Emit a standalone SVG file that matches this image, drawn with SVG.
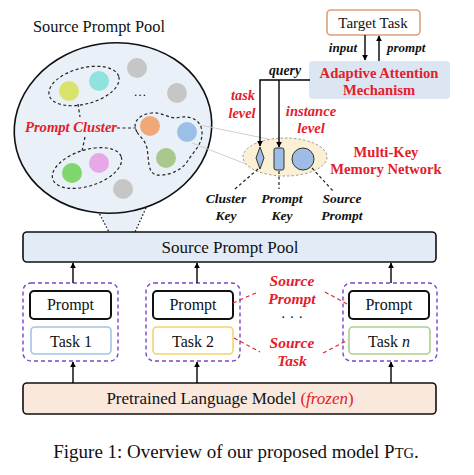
<svg xmlns="http://www.w3.org/2000/svg" width="474" height="475" viewBox="0 0 474 475">
<defs>
<marker id="ah" viewBox="0 0 10 10" refX="9" refY="5" markerWidth="6" markerHeight="6" orient="auto-start-reverse" markerUnits="userSpaceOnUse">
<path d="M0,0 L10,5 L0,10 z" fill="#000"/>
</marker>
<style>
text{font-family:"Liberation Serif","Times New Roman",serif;}
.red{fill:#e3202a;font-weight:bold;font-style:italic;}
.redb{fill:#e3202a;font-weight:bold;}
.bi{fill:#111;font-weight:bold;font-style:italic;}
.box{stroke:#111;stroke-width:1.6;}
.grp{fill:none;stroke:#7a45c8;stroke-width:1.4;stroke-dasharray:4 3;}
.dash{fill:none;stroke:#222;stroke-width:1.2;stroke-dasharray:3 2.5;}
.rdash{fill:none;stroke:#e3202a;stroke-width:1.1;stroke-dasharray:4 3;}
.arr{stroke:#000;stroke-width:1.4;fill:none;marker-end:url(#ah);}
</style>
</defs>
<rect width="474" height="475" fill="#fff"/>

<!-- Title -->
<text x="33" y="32" font-size="16.4" fill="#111">Source Prompt Pool</text>

<!-- Cone to pool -->
<g id="cone">
<polygon points="98,211 109,232 135,232 146,208" fill="#e9f0f8"/>
<line x1="98" y1="211" x2="109" y2="232" stroke="#111" stroke-width="1.2" stroke-dasharray="1.5 2"/>
<line x1="146" y1="208" x2="135" y2="232" stroke="#111" stroke-width="1.2" stroke-dasharray="1.5 2"/>
</g>

<!-- Big pool ellipse -->
<g id="pool-zoom">
<ellipse cx="113" cy="128" rx="99" ry="85" transform="rotate(-8 113 128)" fill="#e9f0f8" stroke="#111" stroke-width="1.6"/>
<ellipse cx="84" cy="86" rx="36" ry="18" transform="rotate(-15 84 86)" class="dash"/>
<ellipse cx="87" cy="168" rx="36" ry="18" transform="rotate(-18 87 168)" class="dash"/>
<path d="M137,132 C131,122 140,114 152,113 C162,112 168,118 176,118 C188,115 201,118 202,132 C203,144 193,152 187,162 C180,172 166,176 156,175 C147,172 149,158 147,148 C145,140 140,137 137,132 Z" class="dash"/>
<circle cx="69" cy="91" r="10" fill="#d8e36c"/>
<circle cx="99" cy="81" r="10" fill="#8fe3dc"/>
<circle cx="137" cy="68" r="10" fill="#c6c6c6"/>
<circle cx="177" cy="93" r="10" fill="#c6c6c6"/>
<text x="140" y="96" font-size="13" text-anchor="middle" fill="#111">…</text>
<circle cx="150" cy="126" r="10" fill="#f0a878"/>
<circle cx="187" cy="132" r="10" fill="#9cbfe6"/>
<circle cx="166" cy="158" r="10" fill="#a9c88e"/>
<circle cx="72" cy="173" r="10" fill="#7ed66c"/>
<circle cx="99" cy="163" r="10" fill="#e8a8e8"/>
<circle cx="123" cy="189" r="10" fill="#c6c6c6"/>
<text x="25" y="132" font-size="14.6" class="red">Prompt Cluster</text>
<line x1="117" y1="128" x2="136" y2="128" class="dash"/>
<line x1="78" y1="104" x2="80" y2="117" class="dash"/>
<line x1="85" y1="137" x2="82" y2="151" class="dash"/>
</g>

<!-- gray magnifier lines -->
<g id="magnify" stroke="#c8c8c8" stroke-width="0.9">
<line x1="200" y1="125" x2="268" y2="139"/>
<line x1="192" y1="143" x2="246" y2="164"/>
</g>

<!-- Target task -->
<g id="target-task">
<rect x="327" y="10" width="93" height="25" rx="4" fill="#fff" stroke="#dba07a" stroke-width="1.6"/>
<text x="373" y="28" font-size="15" text-anchor="middle" fill="#111">Target Task</text>
</g>

<!-- Adaptive attention -->
<g id="adaptive-attention">
<rect x="309" y="61" width="141" height="38" rx="4" fill="#dbe6f2"/>
<text x="379" y="78" font-size="14.6" text-anchor="middle" class="redb">Adaptive Attention</text>
<text x="379" y="95" font-size="14.6" text-anchor="middle" class="redb">Mechanism</text>
</g>

<!-- Multi-key memory network -->
<g id="multi-key">
<ellipse cx="285" cy="157" rx="42" ry="19" fill="#fbf0d4" stroke="#999" stroke-width="1" stroke-dasharray="2.5 2"/>
<path d="M260,147 L264,158 L260,169 L256,158 Z" fill="#9dbde6" stroke="#333" stroke-width="1"/>
<rect x="274" y="148" width="10" height="22" rx="2" fill="#9dbde6" stroke="#333" stroke-width="1"/>
<circle cx="303" cy="159" r="11" fill="#9dbde6" stroke="#333" stroke-width="1"/>
<text x="386" y="157" font-size="14.6" text-anchor="middle" class="redb">Multi-Key</text>
<text x="386" y="174" font-size="14.6" text-anchor="middle" class="redb">Memory Network</text>
</g>

<g id="key-labels">
<text x="226" y="203" font-size="13.5" text-anchor="middle" class="bi">Cluster</text>
<text x="226" y="220" font-size="13.5" text-anchor="middle" class="bi">Key</text>
<text x="282" y="203" font-size="13.5" text-anchor="middle" class="bi">Prompt</text>
<text x="282" y="220" font-size="13.5" text-anchor="middle" class="bi">Key</text>
<text x="342" y="203" font-size="13.5" text-anchor="middle" class="bi">Source</text>
<text x="342" y="220" font-size="13.5" text-anchor="middle" class="bi">Prompt</text>
</g>

<g id="level-labels">
<text x="243" y="100" font-size="14.3" text-anchor="middle" class="red">task</text>
<text x="242" y="118" font-size="14.3" text-anchor="middle" class="red">level</text>
<text x="311" y="116" font-size="14.6" text-anchor="middle" class="red">instance</text>
<text x="311" y="133" font-size="14.6" text-anchor="middle" class="red">level</text>
<text x="285" y="75" font-size="13.8" text-anchor="middle" class="bi">query</text>
<text x="357" y="52" font-size="13" text-anchor="end" class="bi">input</text>
<text x="387" y="52" font-size="13" class="bi">prompt</text>
</g>

<!-- Source prompt pool box -->
<g id="source-prompt-pool">
<rect x="23" y="232" width="413" height="30" rx="4" fill="#e3ecf6" class="box"/>
<text x="230" y="253" font-size="17" text-anchor="middle" fill="#111">Source Prompt Pool</text>
</g>

<!-- Task groups -->
<g id="group-1">
<rect x="23" y="283" width="95" height="78" rx="8" class="grp"/>
<rect x="30" y="291" width="81" height="28" rx="4" fill="#fff" stroke="#111" stroke-width="2"/>
<text x="70.5" y="310" font-size="16" text-anchor="middle" fill="#111">Prompt</text>
<rect x="31" y="327" width="80" height="27" rx="4" fill="#fff" stroke="#a4c2e4" stroke-width="1.6"/>
<text x="71" y="347" font-size="16" text-anchor="middle" fill="#111">Task 1</text>
</g>
<g id="group-2">
<rect x="146" y="283" width="94" height="78" rx="8" class="grp"/>
<rect x="153" y="291" width="80" height="28" rx="4" fill="#fff" stroke="#111" stroke-width="2"/>
<text x="193" y="310" font-size="16" text-anchor="middle" fill="#111">Prompt</text>
<rect x="153" y="327" width="80" height="27" rx="4" fill="#fff" stroke="#f3d36e" stroke-width="1.6"/>
<text x="193" y="347" font-size="16" text-anchor="middle" fill="#111">Task 2</text>
</g>
<g id="group-n">
<rect x="343" y="283" width="94" height="78" rx="8" class="grp"/>
<rect x="349" y="291" width="80" height="28" rx="4" fill="#fff" stroke="#111" stroke-width="2"/>
<text x="389" y="310" font-size="16" text-anchor="middle" fill="#111">Prompt</text>
<rect x="349" y="327" width="81" height="27" rx="4" fill="#fff" stroke="#a9d08e" stroke-width="1.6"/>
<text x="389" y="347" font-size="16" text-anchor="middle" fill="#111">Task <tspan font-style="italic">n</tspan></text>
</g>

<g id="source-labels">
<text x="292" y="286" font-size="15.5" text-anchor="middle" class="red">Source</text>
<text x="292" y="304" font-size="15.5" text-anchor="middle" class="red">Prompt</text>
<text x="292" y="322" font-size="15" text-anchor="middle" fill="#111">· · ·</text>
<text x="292" y="348" font-size="15.5" text-anchor="middle" class="red">Source</text>
<text x="292" y="366" font-size="15.5" text-anchor="middle" class="red">Task</text>
</g>

<!-- PLM -->
<g id="plm">
<rect x="23" y="383" width="413" height="31" rx="4" fill="#fbe8dd" class="box"/>
<text x="230" y="404" font-size="17" text-anchor="middle" fill="#111">Pretrained Language Model <tspan fill="#e3202a">(<tspan font-style="italic">frozen</tspan>)</tspan></text>
</g>

<!-- Connectors -->
<g id="connectors">
<line x1="365" y1="35" x2="365" y2="60" class="arr"/>
<line x1="379" y1="61" x2="379" y2="36" class="arr"/>
<path d="M310,80 H260 V146" class="arr"/>
<path d="M279,80 V147" class="arr"/>
<line x1="258" y1="169" x2="235" y2="189" class="dash" stroke-width="1"/>
<line x1="279" y1="171" x2="279" y2="189" class="dash" stroke-width="1"/>
<line x1="312" y1="168" x2="333" y2="191" class="dash" stroke-width="1"/>
<line x1="73" y1="283" x2="73" y2="263" class="arr"/>
<line x1="197" y1="283" x2="197" y2="263" class="arr"/>
<line x1="391" y1="283" x2="391" y2="263" class="arr"/>
<line x1="73" y1="383" x2="73" y2="362" class="arr"/>
<line x1="197" y1="383" x2="197" y2="362" class="arr"/>
<line x1="391" y1="383" x2="391" y2="362" class="arr"/>
<line x1="233" y1="303" x2="258" y2="292" class="rdash"/>
<line x1="325" y1="292" x2="349" y2="305" class="rdash"/>
<line x1="234" y1="338" x2="260" y2="352" class="rdash"/>
<line x1="323" y1="353" x2="348" y2="340" class="rdash"/>
</g>

<!-- Caption -->
<text x="236" y="458" font-size="19" text-anchor="middle" fill="#111">Figure 1: Overview of our proposed model P<tspan font-size="14.5">TG</tspan>.</text>
</svg>
